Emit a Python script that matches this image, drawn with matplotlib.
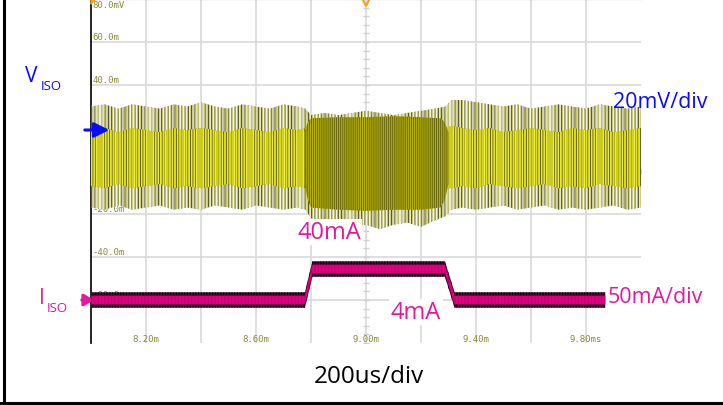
import numpy as np
import matplotlib.pyplot as plt
from matplotlib.patches import Polygon

# V_ISO trace (ch1, mV)
t_v = [8.00, 8.05, 8.10, 8.15, 8.20, 8.25, 8.30, 8.35, 8.40, 8.45, 8.50, 8.55, 8.60, 8.65,
       8.70, 8.75, 8.78, 8.80, 8.85, 8.90, 8.95, 9.00, 9.05, 9.10, 9.15, 9.20, 9.25, 9.29,
       9.31, 9.35, 9.40, 9.45, 9.50, 9.55, 9.60, 9.65, 9.70, 9.75, 9.80, 9.85, 9.90, 9.95, 10.00]
v_spike_hi = [30, 31, 29, 31, 30, 29, 31, 30, 32, 30, 29, 31, 30, 29,
              31, 30, 29, 26, 27, 26, 27, 28, 27, 26, 27, 28, 29, 30,
              33, 33, 32, 31, 30, 31, 29, 30, 31, 30, 29, 31, 30, 29, 30]
v_spike_lo = [-17, -18, -16, -18, -17, -16, -18, -17, -18, -16, -17, -18, -16, -17,
              -18, -17, -18, -22, -23, -24, -26, -25, -27, -25, -24, -26, -23, -21,
              -18, -17, -18, -17, -16, -18, -17, -16, -18, -17, -18, -17, -16, -18, -17]
v_core_hi = [19, 20, 18, 20, 19, 18, 20, 19, 20, 19, 18, 20, 19, 18,
             20, 19, 20, 20, 20, 20, 20, 20, 20, 20, 20, 20, 20, 20,
             21, 20, 19, 20, 18, 19, 20, 19, 18, 20, 19, 20, 18, 19, 20]
v_core_lo = [-7, -8, -6, -8, -7, -6, -8, -7, -8, -7, -6, -8, -7, -6,
             -8, -7, -8, -8, -8, -8, -8, -8, -8, -8, -8, -8, -8, -8,
             -8, -7, -8, -6, -7, -8, -7, -6, -8, -7, -8, -6, -7, -8, -7]

# dense burst while the load is at 40 mA
t_burst = [8.775, 8.79, 8.80, 8.90, 9.00, 9.10, 9.20, 9.27, 9.285, 9.30]
burst_hi = [18, 23, 24.5, 25, 25, 25.5, 25, 24.5, 23, 18]
burst_lo = [-6, -14, -17, -18, -18.5, -18, -18, -17, -14, -6]

# I_ISO trace (ch2, mA)
t_i = [8.00, 8.778, 8.805, 9.287, 9.322, 9.87]
i_ma = [4, 4, 40, 40, 4, 4]
i_fringe = 9
i_core = 5
i_offset_div = -3.08
i_scale = 50  # mA/div

y_vals = [60, 40, 20, 0, -20, -40, -60]
y_labels = ['60.0m', '40.0m', '20.0m', '0.00', '-20.0m', '-40.0m', '-60.0m']
x_vals = [8.2, 8.6, 9.0, 9.4, 9.8]
x_labels = ['8.20m', '8.60m', '9.00m', '9.40m', '9.80ms']

plt.rcParams['hatch.linewidth'] = 0.8

W, H = 723, 406
fig = plt.figure(figsize=(W / 100, H / 100), dpi=100)
ax = fig.add_axes([91 / W, 1 - 344 / H, 550 / W, 344 / H])
ax.set_xlim(8.0, 10.0)
ax.set_ylim(-80, 80)

ax.set_xticks(np.arange(8.2, 9.81, 0.2))
ax.set_yticks(range(-60, 61, 20))
ax.grid(color='#d9d9d9', lw=1.2, zorder=0)
ax.set_axisbelow(True)
ax.tick_params(length=0, labelbottom=False, labelleft=False)
for s in ['right', 'bottom']:
    ax.spines[s].set_visible(False)
ax.spines['left'].set_color('black')
ax.spines['left'].set_linewidth(1.2)
ax.spines['top'].set_color('#505050')
ax.spines['top'].set_linewidth(1.5)

# center graticule ticks
ax.plot([9.0] * 41, np.arange(-80, 80.1, 4), ls='none', marker='_', ms=5,
        color='#cfcfcf', mew=1.0, zorder=1)
ax.plot(np.arange(8.0, 10.01, 0.04), [0] * 51, ls='none', marker='|', ms=5,
        color='#cfcfcf', mew=1.0, zorder=1)

olive = '#8a8a3a'
for v, lab in zip(y_vals, y_labels):
    ax.text(8.006, v + 0.6, lab, fontsize=6.5, family='DejaVu Sans Mono',
            color=olive, va='bottom', ha='left', zorder=1)
ax.text(8.006, 79.5, '80.0mV', fontsize=6.5, family='DejaVu Sans Mono',
        color=olive, va='top', ha='left', zorder=1)
for x, lab in zip(x_vals, x_labels):
    ax.text(x, -78, lab, fontsize=6.5, family='DejaVu Sans Mono',
            color=olive, va='center', ha='center', zorder=1)

# V_ISO: two hatch densities on top of each other give the aliased scope look
ax.fill_between(t_v, v_spike_lo, v_spike_hi, facecolor='#f6f6e6',
                edgecolor='#4a4a14', hatch='|||||', lw=0, zorder=3)
ax.fill_between(t_v, v_spike_lo, v_spike_hi, facecolor='none',
                edgecolor='#c4c470', hatch='||||||', lw=0, zorder=3)
ax.fill_between(t_v, v_core_lo, v_core_hi, facecolor='#d2ce10',
                edgecolor='#4d4d12', hatch='||||||', lw=0, zorder=4)
ax.fill_between(t_v, v_core_lo, v_core_hi, facecolor='none',
                edgecolor='#eeee40', hatch='|||||||', lw=0, zorder=4)
ax.fill_between(t_burst, burst_lo, burst_hi, facecolor='#bdb800',
                edgecolor='#6a6810', hatch='||||||||', lw=0, zorder=5)

# I_ISO, mapped onto the screen
i_arr = np.array(i_ma, dtype=float)
def to_screen(ma):
    return (ma / i_scale + i_offset_div) * 20
ax.fill_between(t_i, to_screen(i_arr - i_fringe), to_screen(i_arr + i_fringe),
                facecolor='#4a0a36', edgecolor='#0a0a0a', hatch='||||||', lw=0, zorder=6)
ax.fill_between(t_i, to_screen(i_arr - i_core), to_screen(i_arr + i_core),
                facecolor='#e2007f', edgecolor='#c0006e', hatch='|||||', lw=0, zorder=7)

# trigger markers
ax.plot(9.0, 79, marker='v', ms=7, mfc='none', mec='#f0a020', mew=1.5,
        clip_on=False, zorder=8)
ax.add_patch(Polygon([(0, 1), (0.008, 1), (0, 0.985)], closed=True,
                     transform=ax.transAxes, color='#f0a020', clip_on=False, zorder=8))

def fx(x):
    return x / W
def fy(y):
    return 1 - y / H

blue = '#0a0aff'
mag = '#e3189a'
font = 'Open Sans'

fig.text(fx(31), fy(76), 'V', color=blue, fontsize=15, family=font, ha='center', va='center')
fig.text(fx(51), fy(86), 'ISO', color=blue, fontsize=9.5, family=font, ha='center', va='center')
fig.text(fx(42), fy(299), 'I', color=mag, fontsize=15, family=font, ha='center', va='center')
fig.text(fx(57), fy(309), 'ISO', color=mag, fontsize=9.5, family=font, ha='center', va='center')

ax.annotate('', xy=(fx(112), fy(131)), xytext=(fx(82), fy(131)),
            xycoords='figure fraction', textcoords='figure fraction',
            arrowprops=dict(arrowstyle='-|>,head_length=0.9,head_width=0.45',
                            color=blue, lw=2.2), annotation_clip=False, zorder=9)
ax.annotate('', xy=(fx(97), fy(301)), xytext=(fx(79), fy(301)),
            xycoords='figure fraction', textcoords='figure fraction',
            arrowprops=dict(arrowstyle='-|>,head_length=0.6,head_width=0.35',
                            color=mag, lw=2.2), annotation_clip=False, zorder=5)

fig.text(fx(660), fy(102), '20mV/div', color=blue, fontsize=15.5, family=font,
         ha='center', va='center')
fig.text(fx(655), fy(298), '50mA/div', color=mag, fontsize=15.5, family=font,
         ha='center', va='center', bbox=dict(fc='white', ec='none', pad=1))
fig.text(fx(329), fy(233), '40mA', color=mag, fontsize=17, family=font,
         ha='center', va='center', bbox=dict(fc='white', ec='none', pad=1))
fig.text(fx(416), fy(313), '4mA', color=mag, fontsize=17, family=font,
         ha='center', va='center', bbox=dict(fc='white', ec='none', pad=1))
fig.text(fx(369), fy(377), '200us/div', color='black', fontsize=17.5, family=font,
         ha='center', va='center')

# slide frame
fig.add_artist(plt.Line2D([fx(3.5), fx(3.5)], [fy(0), fy(404)], color='black', lw=2.2))
fig.add_artist(plt.Line2D([0, 1], [fy(404), fy(404)], color='black', lw=2.2))

fig.savefig('out.png', dpi=100)
